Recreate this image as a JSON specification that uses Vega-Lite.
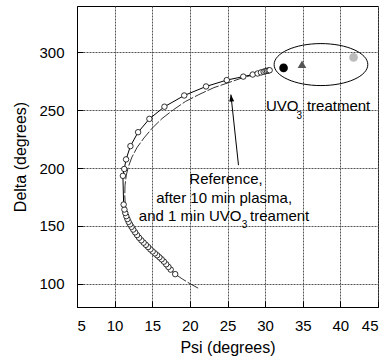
{
  "$schema": "https://vega.github.io/schema/vega-lite/v6.json",
  "width": 301,
  "height": 301,
  "autosize": {"type": "none"},
  "padding": {"left": 77, "top": 6, "right": 12, "bottom": 55},
  "background": "white",
  "config": {
    "font": "Liberation Sans",
    "view": {"stroke": "black", "strokeWidth": 1},
    "axis": {
      "labelFont": "Liberation Sans",
      "titleFont": "Liberation Sans",
      "labelFontSize": 15,
      "titleFontSize": 16,
      "titleFontWeight": "normal",
      "labelColor": "black",
      "titleColor": "black",
      "domainColor": "black",
      "tickColor": "black",
      "tickSize": -6,
      "grid": true,
      "gridColor": "#555555",
      "gridDash": [2, 1],
      "gridWidth": 1,
      "gridOpacity": 1
    }
  },
  "datasets": {
    "meas": [
      {"i": 1, "psi": 18.05, "delta": 108.4},
      {"i": 2, "psi": 17.45, "delta": 112.3},
      {"i": 3, "psi": 17.15, "delta": 114.6},
      {"i": 4, "psi": 16.85, "delta": 116.9},
      {"i": 5, "psi": 16.55, "delta": 119.2},
      {"i": 6, "psi": 16.25, "delta": 121.2},
      {"i": 7, "psi": 15.95, "delta": 123.0},
      {"i": 8, "psi": 15.65, "delta": 124.7},
      {"i": 9, "psi": 15.35, "delta": 126.3},
      {"i": 10, "psi": 15.05, "delta": 128.0},
      {"i": 11, "psi": 14.75, "delta": 129.8},
      {"i": 12, "psi": 14.45, "delta": 131.8},
      {"i": 13, "psi": 14.15, "delta": 133.7},
      {"i": 14, "psi": 13.85, "delta": 135.6},
      {"i": 15, "psi": 13.55, "delta": 137.6},
      {"i": 16, "psi": 13.25, "delta": 139.8},
      {"i": 17, "psi": 12.98, "delta": 142.1},
      {"i": 18, "psi": 12.72, "delta": 144.5},
      {"i": 19, "psi": 12.47, "delta": 146.9},
      {"i": 20, "psi": 12.25, "delta": 149.2},
      {"i": 21, "psi": 12.05, "delta": 151.4},
      {"i": 22, "psi": 11.86, "delta": 153.6},
      {"i": 23, "psi": 11.70, "delta": 156.0},
      {"i": 24, "psi": 11.55, "delta": 158.5},
      {"i": 25, "psi": 11.42, "delta": 161.2},
      {"i": 26, "psi": 11.30, "delta": 164.2},
      {"i": 27, "psi": 11.20, "delta": 168.5},
      {"i": 28, "psi": 11.10, "delta": 193.3},
      {"i": 29, "psi": 11.28, "delta": 199.2},
      {"i": 30, "psi": 11.52, "delta": 207.5},
      {"i": 31, "psi": 12.10, "delta": 219.0},
      {"i": 32, "psi": 13.12, "delta": 231.0},
      {"i": 33, "psi": 14.62, "delta": 242.5},
      {"i": 34, "psi": 16.62, "delta": 253.0},
      {"i": 35, "psi": 19.25, "delta": 262.7},
      {"i": 36, "psi": 22.15, "delta": 270.5},
      {"i": 37, "psi": 24.90, "delta": 276.0},
      {"i": 38, "psi": 27.10, "delta": 279.0},
      {"i": 39, "psi": 28.35, "delta": 280.8},
      {"i": 40, "psi": 29.00, "delta": 281.7},
      {"i": 41, "psi": 29.45, "delta": 282.6},
      {"i": 42, "psi": 29.80, "delta": 283.2},
      {"i": 43, "psi": 30.05, "delta": 283.7},
      {"i": 44, "psi": 30.25, "delta": 284.0},
      {"i": 45, "psi": 30.45, "delta": 284.3},
      {"i": 46, "psi": 30.60, "delta": 284.5}
    ],
    "fit": [
      {"i": 1, "psi": 21.1, "delta": 96.3},
      {"i": 2, "psi": 20.0, "delta": 100.2},
      {"i": 3, "psi": 19.0, "delta": 104.2},
      {"i": 4, "psi": 18.0, "delta": 108.6},
      {"i": 5, "psi": 17.0, "delta": 114.6},
      {"i": 6, "psi": 16.0, "delta": 120.6},
      {"i": 7, "psi": 15.0, "delta": 126.8},
      {"i": 8, "psi": 14.0, "delta": 133.8},
      {"i": 9, "psi": 13.2, "delta": 140.5},
      {"i": 10, "psi": 12.5, "delta": 147.2},
      {"i": 11, "psi": 11.95, "delta": 154.0},
      {"i": 12, "psi": 11.6, "delta": 161.0},
      {"i": 13, "psi": 11.42, "delta": 168.0},
      {"i": 14, "psi": 11.35, "delta": 176.0},
      {"i": 15, "psi": 11.38, "delta": 185.0},
      {"i": 16, "psi": 11.55, "delta": 194.0},
      {"i": 17, "psi": 11.85, "delta": 201.5},
      {"i": 18, "psi": 12.3, "delta": 209.5},
      {"i": 19, "psi": 13.0, "delta": 218.0},
      {"i": 20, "psi": 13.9, "delta": 226.0},
      {"i": 21, "psi": 15.0, "delta": 234.5},
      {"i": 22, "psi": 16.3, "delta": 242.8},
      {"i": 23, "psi": 17.8, "delta": 250.3},
      {"i": 24, "psi": 19.4, "delta": 257.5},
      {"i": 25, "psi": 21.2, "delta": 263.5},
      {"i": 26, "psi": 23.2, "delta": 269.5},
      {"i": 27, "psi": 25.0, "delta": 273.5},
      {"i": 28, "psi": 27.0, "delta": 278.0},
      {"i": 29, "psi": 29.0, "delta": 281.5},
      {"i": 30, "psi": 30.7, "delta": 284.3}
    ],
    "treat": [
      {"sample": "A", "psi": 32.45, "delta": 286.5},
      {"sample": "B", "psi": 34.9, "delta": 289.6},
      {"sample": "C", "psi": 41.75, "delta": 295.6}
    ],
    "ellipse": [{"psi": 37.42, "delta": 289.4}],
    "arrow": [{"psi": 26.46, "delta": 202.5, "psi2": 25.45, "delta2": 263.5}],
    "textLeft": [
      {"t": "UVO", "psi": 30.1, "delta": 249.1},
      {"t": "treatment", "psi": 35.55, "delta": 249.1},
      {"t": "treament", "psi": 28.0, "delta": 154.3}
    ],
    "textCenter": [
      {"t": "Reference,", "psi": 24.8, "delta": 185.9},
      {"t": "after 10 min plasma,", "psi": 24.55, "delta": 170.2}
    ],
    "textRight": [
      {"t": "and 1 min UVO", "psi": 26.85, "delta": 154.3}
    ],
    "textSub": [
      {"t": "3", "psi": 34.55, "delta": 242.8},
      {"t": "3", "psi": 27.25, "delta": 148.0}
    ]
  },
  "encoding": {
    "x": {
      "field": "psi",
      "type": "quantitative",
      "scale": {"domain": [5, 45], "nice": false, "zero": false},
      "axis": {
        "title": "Psi (degrees)",
        "grid": true,
        "values": [5, 10, 15, 20, 25, 30, 35, 40, 45],
        "labelPadding": 17,
        "titlePadding": 6
      }
    },
    "y": {
      "field": "delta",
      "type": "quantitative",
      "scale": {"domain": [80, 340], "nice": false, "zero": false},
      "axis": {
        "title": "Delta (degrees)",
        "grid": true,
        "values": [100, 150, 200, 250, 300],
        "labelPadding": 19,
        "titlePadding": 10
      }
    }
  },
  "layer": [
    {
      "data": {"name": "fit"},
      "mark": {"type": "line", "color": "#333333", "strokeWidth": 1, "strokeDash": [12, 2]},
      "encoding": {"order": {"field": "i", "type": "quantitative"}}
    },
    {
      "data": {"name": "meas"},
      "mark": {"type": "line", "color": "black", "strokeWidth": 1},
      "encoding": {"order": {"field": "i", "type": "quantitative"}}
    },
    {
      "data": {"name": "meas"},
      "mark": {"type": "point", "shape": "circle", "filled": true, "fill": "white", "stroke": "black", "strokeWidth": 0.8, "size": 30, "opacity": 1}
    },
    {
      "data": {"name": "treat"},
      "mark": {"type": "point", "filled": true, "size": 75, "opacity": 1},
      "encoding": {
        "color": {"field": "sample", "type": "nominal", "scale": {"domain": ["A", "B", "C"], "range": ["#000000", "#555555", "#bbbbbb"]}, "legend": null},
        "shape": {"field": "sample", "type": "nominal", "scale": {"domain": ["A", "B", "C"], "range": ["circle", "triangle-up", "circle"]}, "legend": null}
      }
    },
    {
      "data": {"name": "ellipse"},
      "mark": {"type": "point", "shape": "M-1,0A1,0.448,0,1,0,1,0A1,0.448,0,1,0,-1,0Z", "size": 8780, "filled": false, "stroke": "black", "strokeWidth": 1, "opacity": 1}
    },
    {
      "data": {"name": "arrow"},
      "mark": {"type": "rule", "color": "black", "strokeWidth": 1},
      "encoding": {
        "x2": {"field": "psi2"},
        "y2": {"field": "delta2"}
      }
    },
    {
      "data": {"name": "arrow"},
      "mark": {"type": "point", "shape": "M0,0L0.35,1L-0.35,1Z", "size": 196, "filled": true, "color": "black", "angle": -7, "opacity": 1},
      "encoding": {
        "x": {"field": "psi2", "type": "quantitative"},
        "y": {"field": "delta2", "type": "quantitative"}
      }
    },
    {
      "data": {"name": "textLeft"},
      "mark": {"type": "text", "align": "left", "baseline": "alphabetic", "fontSize": 15, "color": "black"},
      "encoding": {"text": {"field": "t"}}
    },
    {
      "data": {"name": "textCenter"},
      "mark": {"type": "text", "align": "center", "baseline": "alphabetic", "fontSize": 15, "color": "black"},
      "encoding": {"text": {"field": "t"}}
    },
    {
      "data": {"name": "textRight"},
      "mark": {"type": "text", "align": "right", "baseline": "alphabetic", "fontSize": 15, "color": "black"},
      "encoding": {"text": {"field": "t"}}
    },
    {
      "data": {"name": "textSub"},
      "mark": {"type": "text", "align": "center", "baseline": "alphabetic", "fontSize": 10, "color": "black"},
      "encoding": {"text": {"field": "t"}}
    }
  ]
}
